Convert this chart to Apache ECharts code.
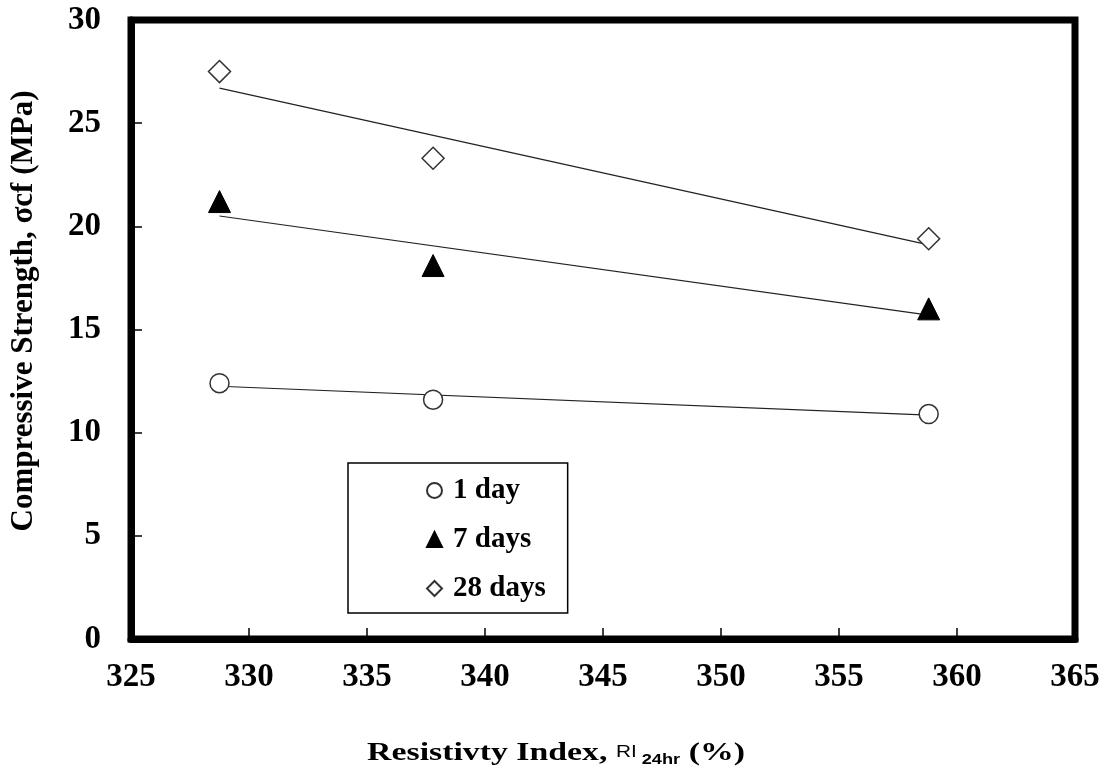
<!DOCTYPE html>
<html>
<head>
<meta charset="utf-8">
<script src="https://cdn.jsdelivr.net/npm/echarts@6/dist/echarts.min.js"></script>
<style>
  html, body { margin: 0; padding: 0; background: #fff; }
  #chart { width: 1105px; height: 774px; }
</style>
</head>
<body>
<div id="chart"></div>
<script>
// 测点数据 (RI 24hr, 强度)
const riValues = [328.75, 337.8, 358.8];
const day1 = [12.4, 11.6, 10.9];
const day7 = [21.2, 18.1, 16.0];
const day28 = [27.5, 23.3, 19.4];

// 趋势线端点
const trendX = [328.75, 358.8];
const trend1 = [12.25, 10.85];
const trend7 = [20.5, 15.7];
const trend28 = [26.7, 19.1];

const serifFont = '"Liberation Serif", "DejaVu Serif", serif';
const sansFont = '"Liberation Sans", Arial, sans-serif';

const toPairs = (xs, ys) => xs.map((x, i) => [x, ys[i]]);

const markerStyle = { color: '#fff', borderColor: '#333', borderWidth: 1.5, opacity: 1 };

const trendLine = (name, ys) => ({
    name: name,
    type: 'line',
    data: toPairs(trendX, ys),
    symbol: 'none',
    silent: true,
    lineStyle: { color: '#222', width: 1.2 },
    z: 1
});

const chart = echarts.init(document.getElementById('chart'));

const option = {
    backgroundColor: '#fff',
    animation: false,
    grid: {
        left: 131, right: 30, top: 20, bottom: 135,
        show: true, borderColor: '#000', borderWidth: 7,
        backgroundColor: 'transparent'
    },
    xAxis: {
        type: 'value',
        min: 325, max: 365, interval: 5,
        axisLine: { show: true, lineStyle: { color: '#000', width: 7 } },
        axisTick: { show: true, inside: true, length: 11, lineStyle: { color: '#000', width: 1.5 } },
        splitLine: { show: false },
        axisLabel: { color: '#000', fontFamily: serifFont, fontWeight: 'bold', fontSize: 33, margin: 22 }
    },
    yAxis: {
        type: 'value',
        min: 0, max: 30, interval: 5,
        axisLine: { show: true, lineStyle: { color: '#000', width: 7 } },
        axisTick: { show: true, inside: true, length: 11, lineStyle: { color: '#000', width: 1.5 } },
        splitLine: { show: false },
        axisLabel: { color: '#000', fontFamily: serifFont, fontWeight: 'bold', fontSize: 33, margin: 30 }
    },
    graphic: [
        {
            // 纵轴标题
            type: 'text',
            x: 24, y: 311,
            rotation: Math.PI / 2,
            style: {
                text: 'Compressive Strength, σcf (MPa)',
                fill: '#000',
                font: 'bold 31px ' + serifFont,
                align: 'center',
                verticalAlign: 'middle'
            }
        },
        {
            // 横轴标题
            type: 'text',
            x: 556, y: 753,
            scaleX: 1.3,
            style: {
                text: '{t|Resistivty Index, }{ri|RI}{sub| 24hr}{t| (%)}',
                align: 'center',
                verticalAlign: 'middle',
                rich: {
                    t: { fontFamily: serifFont, fontWeight: 'bold', fontSize: 26, fill: '#000' },
                    ri: { fontFamily: sansFont, fontSize: 16, fill: '#000' },
                    sub: { fontFamily: sansFont, fontWeight: 'bold', fontSize: 14, fill: '#000', padding: [14, 0, 0, 0] }
                }
            }
        }
    ],
    legend: {
        data: ['1 day', '7 days', '28 days'],
        orient: 'vertical',
        left: 348,
        top: 463,
        padding: [13, 22, 10, 78],
        itemGap: 20,
        itemWidth: 15,
        itemHeight: 15,
        borderColor: '#000',
        borderWidth: 1.5,
        borderRadius: 0,
        backgroundColor: '#fff',
        textStyle: { color: '#000', fontFamily: serifFont, fontWeight: 'bold', fontSize: 29, padding: [0, 0, 0, 6] }
    },
    series: [
        trendLine('trend 1', trend1),
        trendLine('trend 7', trend7),
        trendLine('trend 28', trend28),
        {
            name: '1 day',
            type: 'scatter',
            data: toPairs(riValues, day1),
            symbol: 'circle',
            symbolSize: 19,
            itemStyle: markerStyle,
            z: 3
        },
        {
            name: '7 days',
            type: 'scatter',
            data: toPairs(riValues, day7),
            symbol: 'triangle',
            symbolSize: 22,
            itemStyle: { color: '#000', borderColor: '#000', borderWidth: 1, opacity: 1 },
            z: 3
        },
        {
            name: '28 days',
            type: 'scatter',
            data: toPairs(riValues, day28),
            symbol: 'diamond',
            symbolSize: [22, 22],
            itemStyle: markerStyle,
            z: 3
        }
    ]
};

chart.setOption(option);
</script>
</body>
</html>
